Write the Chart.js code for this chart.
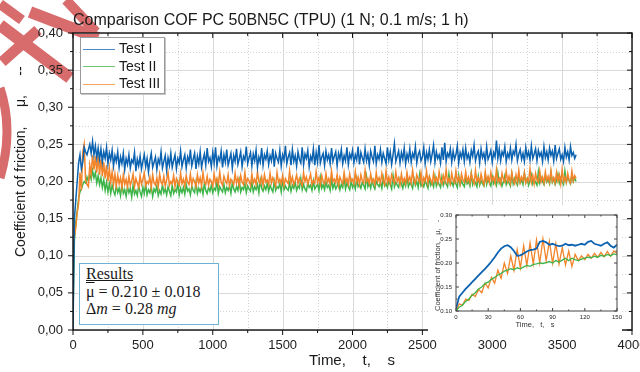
<!DOCTYPE html>
<html>
<head>
<meta charset="utf-8">
<script src="https://cdn.jsdelivr.net/npm/chart.js@4.4.1/dist/chart.umd.min.js"></script>
<style>
  body { margin: 0; background: #fff; font-family: "Liberation Sans", Arial, sans-serif; color: #1a1a1a; }
  #wrap { position: relative; width: 640px; height: 372px; overflow: hidden; }
  #wrap > * { position: absolute; }
  #main { left: 0; top: 0; }
  #title { left: 73px; top: 11px; font-size: 16px; line-height: 18px; white-space: pre; }
  #ytitle { left: 12px; top: 257px; font-size: 14px; line-height: 16px; white-space: pre; transform-origin: 0 0; transform: rotate(-90deg); }
  #xtitle { left: 252px; top: 351px; width: 200px; text-align: center; font-size: 15px; line-height: 17px; white-space: pre; }
  #legend { left: 80px; top: 37px; width: 85px; height: 57px; box-sizing: border-box; padding: 2px 0 0 2px;
            background: #fff; border: 1px solid #9a9a9a; box-shadow: 1px 1px 0 #c6c6c6; font-size: 14px; }
  #legend .row { height: 17.5px; line-height: 17.5px; white-space: nowrap; }
  #legend .swatch { display: inline-block; width: 32px; vertical-align: middle; margin-right: 4px; opacity: 0.75; }
  #results { left: 79px; top: 263px; width: 140px; height: 62px; box-sizing: border-box; padding: 1px 0 0 6px;
             background: #fff; border: 1.5px solid #6cb3d2; font-family: "Liberation Serif", "DejaVu Serif", serif;
             font-size: 16px; line-height: 17.5px; white-space: nowrap; }
  #inset { left: 428px; top: 205px; background: #fff; }
  #inset-x { left: 485px; top: 320px; width: 100px; text-align: center; font-size: 7.5px; line-height: 9px; white-space: pre; color: #333; }
  #inset-y { left: 433px; top: 311px; font-size: 7.5px; line-height: 9px; white-space: pre; color: #333; transform-origin: 0 0; transform: rotate(-90deg); }
</style>
</head>
<body>
<div id="wrap">
  <svg id="stamp" width="640" height="372" style="left:0;top:0">
    <g stroke="#d86c6c" fill="none">
      <line x1="0" y1="25" x2="70" y2="78" stroke-width="12"/>
      <line x1="2" y1="62" x2="38" y2="30" stroke-width="11"/>
      <line x1="30" y1="12" x2="98" y2="38" stroke-width="12"/>
      <line x1="66" y1="0" x2="96" y2="32" stroke-width="10"/>
      <line x1="0" y1="4" x2="22" y2="20" stroke-width="10"/>
      <path d="M 0 88 Q 14 130 0 178" stroke-width="9"/>
    </g>
  </svg>
  <canvas id="main" width="640" height="372"></canvas>
  <div id="title">Comparison COF PC 50BN5C (TPU) (1 N; 0.1 m/s; 1 h)</div>
  <div id="ytitle">Coefficient of friction,     μ,     --</div>
  <div id="xtitle">Time,    t,    s</div>
  <div id="legend"></div>
  <div id="results">
    <div><u>Results</u></div>
    <div><span style="text-decoration: overline">μ</span> = 0.210 ± 0.018</div>
    <div>Δ<i>m</i> = 0.28 <i>mg</i></div>
  </div>
  <canvas id="inset" width="194" height="130"></canvas>
  <div id="inset-x">Time,   t,   s</div>
  <div id="inset-y">Coefficient of friction,   μ,   -</div>
</div>
<script>
// main chart: time in s, sampled every 10 s (one row = 200 s)
const TIME = [
  0, 10, 20, 30, 40, 50, 60, 70, 80, 90, 100, 110, 120, 130, 140, 150, 160, 170, 180, 190,
  200, 210, 220, 230, 240, 250, 260, 270, 280, 290, 300, 310, 320, 330, 340, 350, 360, 370, 380, 390,
  400, 410, 420, 430, 440, 450, 460, 470, 480, 490, 500, 510, 520, 530, 540, 550, 560, 570, 580, 590,
  600, 610, 620, 630, 640, 650, 660, 670, 680, 690, 700, 710, 720, 730, 740, 750, 760, 770, 780, 790,
  800, 810, 820, 830, 840, 850, 860, 870, 880, 890, 900, 910, 920, 930, 940, 950, 960, 970, 980, 990,
  1000, 1010, 1020, 1030, 1040, 1050, 1060, 1070, 1080, 1090, 1100, 1110, 1120, 1130, 1140, 1150, 1160, 1170, 1180, 1190,
  1200, 1210, 1220, 1230, 1240, 1250, 1260, 1270, 1280, 1290, 1300, 1310, 1320, 1330, 1340, 1350, 1360, 1370, 1380, 1390,
  1400, 1410, 1420, 1430, 1440, 1450, 1460, 1470, 1480, 1490, 1500, 1510, 1520, 1530, 1540, 1550, 1560, 1570, 1580, 1590,
  1600, 1610, 1620, 1630, 1640, 1650, 1660, 1670, 1680, 1690, 1700, 1710, 1720, 1730, 1740, 1750, 1760, 1770, 1780, 1790,
  1800, 1810, 1820, 1830, 1840, 1850, 1860, 1870, 1880, 1890, 1900, 1910, 1920, 1930, 1940, 1950, 1960, 1970, 1980, 1990,
  2000, 2010, 2020, 2030, 2040, 2050, 2060, 2070, 2080, 2090, 2100, 2110, 2120, 2130, 2140, 2150, 2160, 2170, 2180, 2190,
  2200, 2210, 2220, 2230, 2240, 2250, 2260, 2270, 2280, 2290, 2300, 2310, 2320, 2330, 2340, 2350, 2360, 2370, 2380, 2390,
  2400, 2410, 2420, 2430, 2440, 2450, 2460, 2470, 2480, 2490, 2500, 2510, 2520, 2530, 2540, 2550, 2560, 2570, 2580, 2590,
  2600, 2610, 2620, 2630, 2640, 2650, 2660, 2670, 2680, 2690, 2700, 2710, 2720, 2730, 2740, 2750, 2760, 2770, 2780, 2790,
  2800, 2810, 2820, 2830, 2840, 2850, 2860, 2870, 2880, 2890, 2900, 2910, 2920, 2930, 2940, 2950, 2960, 2970, 2980, 2990,
  3000, 3010, 3020, 3030, 3040, 3050, 3060, 3070, 3080, 3090, 3100, 3110, 3120, 3130, 3140, 3150, 3160, 3170, 3180, 3190,
  3200, 3210, 3220, 3230, 3240, 3250, 3260, 3270, 3280, 3290, 3300, 3310, 3320, 3330, 3340, 3350, 3360, 3370, 3380, 3390,
  3400, 3410, 3420, 3430, 3440, 3450, 3460, 3470, 3480, 3490, 3500, 3510, 3520, 3530, 3540, 3550, 3560, 3570, 3580, 3590,
  3600
];

const TEST_I = [
  .000, .150, .175, .200, .225, .236, .217, .226, .246, .240, .236, .243, .250, .238, .254, .236, .248, .232, .245, .230,
  .244, .226, .240, .231, .246, .224, .238, .229, .242, .221, .235, .227, .240, .219, .233, .224, .238, .216, .231, .223,
  .236, .218, .229, .225, .239, .214, .230, .221, .234, .217, .227, .236, .220, .231, .213, .228, .238, .219, .226, .233,
  .216, .230, .224, .240, .218, .227, .235, .215, .232, .222, .238, .219, .228, .236, .217, .231, .225, .241, .220, .229,
  .236, .218, .233, .226, .243, .221, .230, .238, .217, .234, .224, .240, .219, .229, .237, .222, .245, .227, .232, .220,
  .239, .225, .246, .221, .233, .228, .241, .219, .236, .226, .243, .222, .230, .238, .218, .235, .227, .244, .223, .231,
  .240, .220, .234, .229, .247, .224, .232, .239, .221, .237, .228, .242, .219, .233, .226, .245, .222, .236, .230, .241,
  .223, .235, .228, .244, .220, .238, .231, .226, .242, .221, .236, .229, .248, .224, .233, .239, .222, .243, .227, .235,
  .221, .240, .230, .225, .246, .223, .237, .231, .242, .220, .234, .228, .244, .222, .239, .226, .249, .225, .233, .238,
  .222, .241, .229, .236, .224, .245, .227, .234, .240, .221, .238, .230, .243, .224, .235, .228, .246, .223, .237, .231,
  .242, .225, .236, .229, .247, .223, .239, .232, .226, .244, .228, .237, .222, .241, .233, .227, .248, .224, .236, .230,
  .243, .226, .238, .231, .224, .246, .229, .240, .223, .236, .251, .227, .234, .241, .225, .239, .230, .245, .224, .237,
  .229, .244, .226, .238, .232, .247, .225, .236, .241, .228, .233, .246, .224, .239, .230, .243, .227, .237, .249, .226,
  .240, .231, .236, .225, .246, .229, .252, .227, .238, .233, .244, .226, .241, .230, .236, .248, .225, .239, .232, .243,
  .227, .245, .231, .237, .226, .242, .234, .249, .228, .236, .241, .225, .244, .232, .238, .227, .247, .230, .235, .242,
  .226, .239, .233, .255, .231, .244, .228, .240, .235, .247, .227, .238, .232, .245, .229, .241, .236, .250, .228, .237,
  .243, .230, .238, .227, .246, .233, .240, .229, .248, .231, .237, .244, .228, .242, .234, .239, .227, .247, .232, .240,
  .229, .245, .235, .241, .228, .249, .231, .238, .244, .230, .236, .227, .246, .233, .240, .229, .247, .235, .239, .231,
  .236
];

const TEST_II = [
  .020, .120, .145, .160, .177, .186, .190, .196, .200, .198, .206, .200, .210, .203, .215, .205, .212, .198, .208, .196,
  .205, .192, .202, .188, .199, .186, .197, .184, .195, .187, .182, .194, .185, .191, .181, .196, .184, .189, .180, .193,
  .185, .191, .179, .195, .183, .188, .181, .194, .186, .180, .192, .184, .197, .182, .189, .185, .193, .180, .190, .186,
  .194, .181, .188, .183, .196, .185, .190, .182, .193, .187, .181, .195, .184, .189, .186, .198, .182, .191, .185, .192,
  .183, .196, .187, .190, .182, .194, .188, .185, .199, .184, .191, .186, .193, .183, .197, .188, .184, .192, .187, .195,
  .185, .191, .188, .200, .184, .193, .189, .186, .196, .185, .192, .188, .194, .184, .198, .190, .186, .193, .188, .201,
  .186, .192, .189, .197, .185, .194, .190, .187, .199, .186, .193, .189, .196, .185, .202, .191, .187, .194, .189, .198,
  .187, .195, .190, .186, .200, .188, .193, .191, .197, .186, .203, .189, .194, .190, .188, .198, .187, .195, .191, .199,
  .188, .194, .191, .204, .189, .196, .190, .187, .199, .192, .195, .188, .201, .190, .193, .197, .188, .205, .191, .196,
  .189, .199, .192, .195, .188, .203, .191, .197, .190, .194, .200, .189, .196, .192, .206, .190, .198, .193, .189, .201,
  .192, .197, .190, .204, .193, .196, .191, .199, .195, .190, .207, .193, .198, .191, .202, .194, .190, .200, .196, .193,
  .199, .191, .205, .194, .197, .192, .201, .196, .190, .208, .193, .199, .195, .192, .203, .197, .191, .200, .194, .206,
  .193, .198, .196, .191, .204, .195, .200, .192, .209, .194, .197, .193, .202, .196, .191, .205, .195, .199, .193, .207,
  .194, .200, .196, .192, .206, .195, .201, .197, .193, .210, .196, .199, .194, .203, .197, .192, .208, .195, .201, .196,
  .193, .205, .197, .200, .194, .211, .196, .202, .198, .193, .207, .195, .201, .197, .194, .209, .196, .203, .198, .194,
  .206, .197, .201, .195, .212, .198, .203, .194, .200, .208, .196, .202, .198, .194, .210, .197, .204, .199, .195, .207,
  .198, .202, .196, .211, .199, .204, .195, .201, .209, .197, .203, .199, .195, .213, .198, .205, .200, .196, .208, .199,
  .203, .197, .212, .199, .204, .196, .201, .210, .198, .205, .200, .196, .214, .199, .206, .201, .197, .209, .200, .204,
  .200
];

const TEST_III = [
  .100, .125, .138, .158, .170, .212, .188, .240, .250, .202, .196, .193, .222, .210, .236, .216, .234, .212, .235, .209,
  .230, .207, .226, .204, .222, .200, .218, .199, .213, .196, .210, .194, .208, .197, .205, .192, .209, .196, .203, .193,
  .207, .195, .201, .210, .193, .204, .198, .192, .208, .196, .203, .211, .194, .200, .197, .206, .192, .209, .198, .195,
  .205, .193, .210, .199, .196, .207, .194, .202, .212, .195, .200, .197, .208, .193, .204, .199, .195, .211, .197, .203,
  .194, .208, .199, .196, .210, .195, .204, .200, .193, .209, .198, .205, .194, .212, .199, .196, .207, .195, .203, .200,
  .194, .210, .198, .204, .196, .213, .199, .195, .207, .201, .197, .209, .194, .203, .200, .196, .211, .198, .205, .195,
  .208, .199, .196, .212, .197, .204, .201, .195, .210, .198, .203, .196, .213, .200, .197, .206, .195, .209, .199, .202,
  .196, .211, .198, .205, .200, .194, .212, .199, .203, .197, .208, .195, .204, .200, .197, .214, .198, .206, .196, .201,
  .209, .197, .204, .199, .195, .212, .200, .206, .197, .203, .210, .196, .201, .198, .213, .199, .205, .196, .208, .200,
  .197, .211, .199, .204, .196, .214, .200, .203, .198, .209, .195, .206, .201, .197, .212, .199, .204, .196, .210, .200,
  .203, .197, .213, .199, .206, .196, .209, .201, .198, .215, .200, .204, .197, .210, .199, .203, .196, .212, .200, .205,
  .198, .211, .201, .196, .214, .199, .206, .197, .209, .202, .198, .213, .200, .205, .196, .210, .199, .204, .197, .212,
  .200, .206, .198, .215, .201, .197, .209, .203, .199, .212, .196, .205, .200, .214, .198, .207, .202, .197, .211, .200,
  .205, .198, .213, .201, .197, .208, .200, .216, .199, .204, .197, .211, .201, .198, .214, .200, .206, .197, .210, .202,
  .199, .213, .200, .206, .198, .211, .202, .197, .215, .200, .205, .198, .210, .201, .196, .213, .200, .207, .199, .212,
  .201, .206, .198, .216, .200, .204, .197, .211, .202, .199, .214, .200, .207, .198, .212, .201, .197, .209, .200, .215,
  .199, .206, .201, .212, .198, .204, .200, .217, .199, .208, .197, .211, .202, .199, .214, .200, .206, .198, .213, .201,
  .207, .199, .215, .200, .205, .198, .212, .201, .209, .197, .216, .200, .206, .199, .211, .202, .198, .214, .201, .208,
  .204
];

const X_TICKS = [0, 500, 1000, 1500, 2000, 2500, 3000, 3500, 4000];
const X_LABELS = ['0', '500', '1000', '1500', '2000', '2500', '3000', '3500', '4000'];
const X_MINOR = [250, 750, 1250, 1750, 2250, 2750, 3250, 3750];
const Y_TICKS = [0, 0.05, 0.10, 0.15, 0.20, 0.25, 0.30, 0.35, 0.40];
const Y_LABELS = ['0,00', '0,05', '0,10', '0,15', '0,20', '0,25', '0,30', '0,35', '0,40'];
const Y_MINOR = [0.025, 0.075, 0.125, 0.175, 0.225, 0.275, 0.325, 0.375];

// inset: first 150 s, sampled every 3 s
const INSET_TIME = [
  0, 3, 6, 9, 12, 15, 18, 21, 24, 27,
  30, 33, 36, 39, 42, 45, 48, 51, 54, 57,
  60, 63, 66, 69, 72, 75, 78, 81, 84, 87,
  90, 93, 96, 99, 102, 105, 108, 111, 114, 117,
  120, 123, 126, 129, 132, 135, 138, 141, 144, 147,
  150
];
const INSET_I = [
  0.105, 0.130, 0.138, 0.146, 0.153, 0.160, 0.167, 0.174, 0.181, 0.188,
  0.195, 0.203, 0.212, 0.222, 0.230, 0.235, 0.237, 0.233, 0.225, 0.215,
  0.216, 0.220, 0.224, 0.227, 0.228, 0.230, 0.244, 0.246, 0.243, 0.238,
  0.240, 0.237, 0.235, 0.236, 0.240, 0.237, 0.238, 0.236, 0.238, 0.240,
  0.238, 0.244, 0.246, 0.240, 0.238, 0.236, 0.240, 0.243, 0.236, 0.232,
  0.238
];
const INSET_II = [
  0.100, 0.108, 0.112, 0.120, 0.125, 0.133, 0.138, 0.146, 0.150, 0.157,
  0.160, 0.166, 0.170, 0.175, 0.178, 0.183, 0.185, 0.188, 0.186, 0.190,
  0.188, 0.192, 0.195, 0.193, 0.197, 0.198, 0.200, 0.199, 0.201, 0.203,
  0.200, 0.205, 0.202, 0.206, 0.210, 0.205, 0.210, 0.207, 0.205, 0.208,
  0.210, 0.212, 0.211, 0.214, 0.212, 0.216, 0.214, 0.218, 0.215, 0.219,
  0.217
];
const INSET_III = [
  0.100, 0.115, 0.112, 0.125, 0.122, 0.135, 0.130, 0.145, 0.138, 0.158,
  0.148, 0.170, 0.158, 0.185, 0.168, 0.200, 0.178, 0.215, 0.185, 0.228,
  0.190, 0.236, 0.195, 0.242, 0.198, 0.248, 0.200, 0.250, 0.205, 0.245,
  0.200, 0.240, 0.198, 0.232, 0.196, 0.225, 0.193, 0.218, 0.205, 0.215,
  0.207, 0.218, 0.210, 0.220, 0.212, 0.222, 0.213, 0.224, 0.214, 0.225,
  0.220
];
const INSET_X_TICKS = [0, 30, 60, 90, 120, 150];
const INSET_X_LABELS = ['0', '30', '60', '90', '120', '150'];
const INSET_X_MINOR = [15, 45, 75, 105, 135];
const INSET_Y_TICKS = [0.10, 0.15, 0.20, 0.25, 0.30];
const INSET_Y_LABELS = ['0.10', '0.15', '0.20', '0.25', '0.30'];
const INSET_Y_MINOR = [0.125, 0.175, 0.225, 0.275];

const BLUE = '#0a62b0';
const GREEN = '#3db54a';
const ORANGE = '#f2842a';

const pts = (xs, ys) => xs.map((x, i) => ({ x: x, y: ys[i] }));

function seg(ctx, x1, y1, x2, y2) {
  ctx.beginPath();
  ctx.moveTo(x1, y1);
  ctx.lineTo(x2, y2);
  ctx.stroke();
}

// grid, frame and tick marks drawn from the chart's own scales
const axisBox = {
  id: 'axisBox',
  beforeDatasetsDraw(chart, args, o) {
    if (!o.grid) return;
    const { ctx, chartArea: a, scales: { x, y } } = chart;
    ctx.save();
    ctx.lineWidth = 1;
    ctx.strokeStyle = '#d2d2d2';
    ctx.setLineDash([1, 2]);
    o.minorX.forEach(v => { const p = Math.round(x.getPixelForValue(v)) + 0.5; seg(ctx, p, a.top, p, a.bottom); });
    o.minorY.forEach(v => { const p = Math.round(y.getPixelForValue(v)) + 0.5; seg(ctx, a.left, p, a.right, p); });
    ctx.setLineDash([]);
    ctx.strokeStyle = '#d9d9d9';
    o.majorX.forEach(v => { const p = Math.round(x.getPixelForValue(v)) + 0.5; seg(ctx, p, a.top, p, a.bottom); });
    o.majorY.forEach(v => { const p = Math.round(y.getPixelForValue(v)) + 0.5; seg(ctx, a.left, p, a.right, p); });
    ctx.restore();
  },
  afterDatasetsDraw(chart, args, o) {
    const { ctx, chartArea: a, scales: { x, y } } = chart;
    const L = o.major, l = o.minor;
    ctx.save();
    ctx.strokeStyle = o.color;
    ctx.lineWidth = o.width;
    ctx.strokeRect(a.left, a.top, a.right - a.left, a.bottom - a.top);
    ctx.lineWidth = 1;
    const xt = (vals, len) => vals.forEach(v => {
      const p = x.getPixelForValue(v);
      seg(ctx, p, a.bottom, p, a.bottom + (o.outside ? len : -len));
      seg(ctx, p, a.top, p, a.top + len);
    });
    const yt = (vals, len) => vals.forEach(v => {
      const p = y.getPixelForValue(v);
      seg(ctx, a.left, p, a.left + (o.outside ? -len : len), p);
      seg(ctx, a.right, p, a.right - len, p);
    });
    xt(o.majorX, L); xt(o.minorX, l);
    yt(o.majorY, L); yt(o.minorY, l);
    ctx.restore();
  }
};

function scaleOpts(min, max, ticks, labels, font, pad, fitSize, axis) {
  return {
    type: 'linear', min: min, max: max,
    afterBuildTicks: s => { s.ticks = ticks.map(v => ({ value: v })); },
    afterFit: s => {
      if (axis === 'x') { s.height = fitSize; s.paddingLeft = 0; s.paddingRight = 0; }
      else { s.width = fitSize; s.paddingTop = 0; s.paddingBottom = 0; }
    },
    ticks: { callback: (v, i) => labels[i], font: font, color: '#222', padding: pad, maxRotation: 0, autoSkip: false },
    grid: { display: true, drawOnChartArea: false, color: 'rgba(0,0,0,0)', tickLength: 5 },
    border: { display: false }
  };
}

const mainChart = new Chart(document.getElementById('main'), {
  type: 'line',
  data: {
    datasets: [
      { label: 'Test I', data: pts(TIME, TEST_I), borderColor: BLUE, order: 0 },
      { label: 'Test II', data: pts(TIME, TEST_II), borderColor: GREEN, order: 2 },
      { label: 'Test III', data: pts(TIME, TEST_III), borderColor: ORANGE, order: 1 }
    ]
  },
  options: {
    responsive: false,
    animation: false,
    elements: { point: { radius: 0 }, line: { borderWidth: 1.5, tension: 0 } },
    layout: { padding: { top: 33, right: 8, left: 0, bottom: 0 } },
    scales: {
      x: scaleOpts(0, 4000, X_TICKS, X_LABELS, { size: 13, family: 'Liberation Sans' }, 3, 42, 'x'),
      y: scaleOpts(0, 0.4, Y_TICKS, Y_LABELS, { size: 13, family: 'Liberation Sans' }, 5, 73, 'y')
    },
    plugins: {
      legend: { display: false },
      tooltip: { enabled: false },
      axisBox: { grid: true, outside: true, color: '#111', width: 1.4, major: 5, minor: 3,
                 majorX: X_TICKS, minorX: X_MINOR, majorY: Y_TICKS, minorY: Y_MINOR }
    }
  },
  plugins: [axisBox]
});

// legend box built from the chart's datasets
const legend = document.getElementById('legend');
mainChart.data.datasets.forEach(ds => {
  const row = document.createElement('div');
  row.className = 'row';
  const sw = document.createElement('span');
  sw.className = 'swatch';
  sw.style.borderTop = '1.5px solid ' + ds.borderColor;
  row.appendChild(sw);
  row.appendChild(document.createTextNode(ds.label));
  legend.appendChild(row);
});

new Chart(document.getElementById('inset'), {
  type: 'line',
  data: {
    datasets: [
      { label: 'Test I', data: pts(INSET_TIME, INSET_I), borderColor: BLUE, borderWidth: 1.8, order: 0 },
      { label: 'Test II', data: pts(INSET_TIME, INSET_II), borderColor: GREEN, order: 1 },
      { label: 'Test III', data: pts(INSET_TIME, INSET_III), borderColor: ORANGE, order: 2 }
    ]
  },
  options: {
    responsive: false,
    animation: false,
    elements: { point: { radius: 0 }, line: { borderWidth: 1.3, tension: 0 } },
    layout: { padding: { top: 10, right: 5, left: 0, bottom: 0 } },
    scales: {
      x: scaleOpts(0, 150, INSET_X_TICKS, INSET_X_LABELS, { size: 6, family: 'Liberation Sans' }, -2, 24, 'x'),
      y: scaleOpts(0.10, 0.30, INSET_Y_TICKS, INSET_Y_LABELS, { size: 6, family: 'Liberation Sans' }, -1, 28, 'y')
    },
    plugins: {
      legend: { display: false },
      tooltip: { enabled: false },
      axisBox: { grid: false, outside: false, color: '#444', width: 1, major: 3, minor: 1.5,
                 majorX: INSET_X_TICKS, minorX: INSET_X_MINOR, majorY: INSET_Y_TICKS, minorY: INSET_Y_MINOR }
    }
  },
  plugins: [axisBox]
});
</script>
</body>
</html>
